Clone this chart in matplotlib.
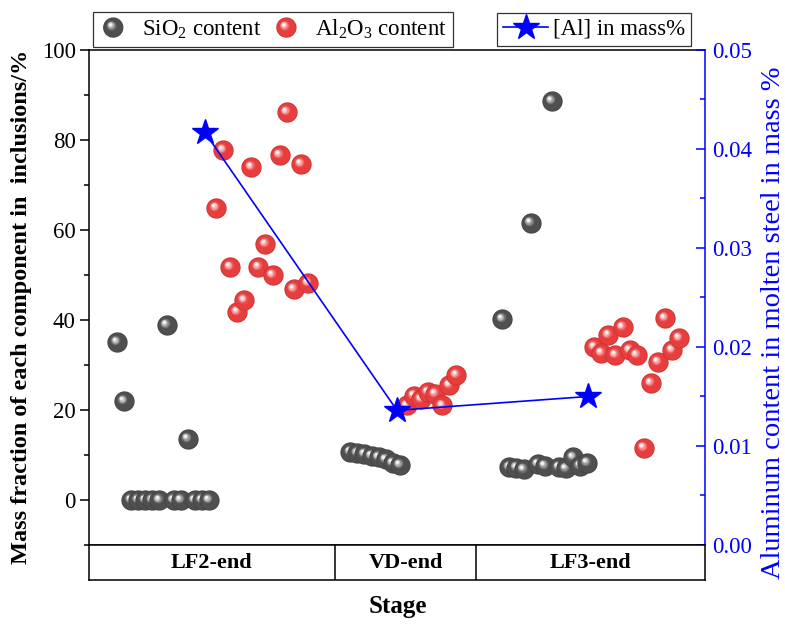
import matplotlib as mpl
mpl.use("Agg")
import matplotlib.pyplot as plt
import numpy as np
from matplotlib.ticker import MultipleLocator, FormatStrFormatter
from matplotlib.transforms import ScaledTranslation
from matplotlib.legend_handler import HandlerBase
from matplotlib.patches import Circle
from matplotlib.lines import Line2D
from matplotlib.colors import to_rgb

plt.rcParams['font.family'] = ['Liberation Serif', 'DejaVu Serif']
plt.rcParams['mathtext.fontset'] = 'custom'
plt.rcParams['mathtext.rm'] = 'Liberation Serif'
plt.rcParams['mathtext.it'] = 'Liberation Serif:italic'
plt.rcParams['mathtext.bf'] = 'Liberation Serif:bold'

# ---------------- data ----------------
stages = ["LF2-end", "VD-end", "LF3-end"]
stage_bounds = [30.83, 50.78]          # dividers between stage groups (x units)
stage_centers = [13.4, 40.8, 66.9]

sio2_x_lf2 = [0, 1, 2, 3, 4, 5, 6, 7, 8, 9, 10, 11, 12, 13]
sio2_lf2 = [35.1, 22.0, 0, 0, 0, 0, 0, 38.9, 0, 0, 13.6, 0, 0, 0]
al2o3_x_lf2 = [14, 15, 16, 17, 18, 19, 20, 21, 22, 23, 24, 25, 26, 27]
al2o3_lf2 = [64.9, 77.8, 51.8, 41.8, 44.4, 74.0, 51.8, 56.9, 50.0, 76.7, 86.2, 46.9, 74.7, 48.2]

sio2_x_vd = [33, 34, 35, 36, 37, 38, 39, 40]
sio2_vd = [10.7, 10.4, 10.2, 9.8, 9.5, 9.0, 8.2, 7.8]
al2o3_x_vd = [41, 42, 43, 44, 45, 46, 47, 48]
al2o3_vd = [21.0, 23.2, 22.4, 24.0, 23.6, 21.0, 25.5, 27.8]

sio2_x_lf3 = [54.5, 55.5, 56.5, 57.5, 58.5, 59.5, 60.5, 61.5, 62.5, 63.5, 64.5, 65.5, 66.5]
sio2_lf3 = [40.2, 7.3, 7.2, 6.8, 61.6, 8.0, 7.6, 88.7, 7.3, 7.0, 9.5, 7.6, 8.3]
al2o3_x_lf3 = [67.5, 68.5, 69.5, 70.5, 71.5, 72.5, 73.5, 74.5, 75.5, 76.5, 77.5, 78.5, 79.5]
al2o3_lf3 = [34.0, 32.7, 36.7, 32.2, 38.4, 33.3, 32.2, 11.6, 26.0, 30.7, 40.4, 33.3, 36.0]

al_x = [12.4, 39.6, 66.6]
al_mass = [0.0417, 0.0136, 0.0150]

GRAY = "#4f4f4f"
RED = "#e83d3d"
BLUE = "#0000ff"

# ---------------- ball drawing ----------------
def mix(c, w, t):
    c = np.array(to_rgb(c)); w = np.array(to_rgb(w))
    return tuple(c * (1 - t) + w * t)

def ball_layers(base):
    layers = [(0.0, 0.0, 1.0, mix(base, "black", 0.15)),
              (0.0, 0.0, 0.92, base)]
    N = 8
    for k in range(1, N + 1):
        t = k / N
        r = 0.55 - 0.42 * t
        off = 0.14 + 0.14 * t
        layers.append((-off, off, r, mix(base, "white", 0.95 * t ** 1.2)))
    return layers

R_PT = 7.3  # ball radius in points

def draw_balls(ax, fig, xs, ys, base, z0):
    lay = ball_layers(base)
    for i, (x, y) in enumerate(zip(xs, ys)):
        for j, (dx, dy, rf, col) in enumerate(lay):
            tr = ax.transData + ScaledTranslation(dx * R_PT / 72, dy * R_PT / 72,
                                                  fig.dpi_scale_trans)
            ax.plot([x], [y], marker='o', ls='none', ms=2 * rf * R_PT,
                    mfc=col, mec='none', transform=tr,
                    zorder=z0 + i * 0.01 + j * 0.0005, clip_on=False)

class BallHandler(HandlerBase):
    def __init__(self, base, **kw):
        super().__init__(**kw)
        self.base = base

    def create_artists(self, legend, orig_handle, xdescent, ydescent,
                       width, height, fontsize, trans):
        cx = width / 2 - xdescent
        cy = height / 2 - ydescent
        arts = []
        for dx, dy, rf, col in ball_layers(self.base):
            arts.append(Circle((cx + dx * R_PT, cy + dy * R_PT), rf * R_PT,
                               fc=col, ec='none', transform=trans))
        return arts

# ---------------- figure ----------------
fig = plt.figure(figsize=(7.85, 6.24), dpi=100)
ax = fig.add_axes([0.1134, 0.1266, 0.7847, 0.7933])
ax.set_xlim(-3.96, 83.17)
ax.set_ylim(-10, 100)
ax.yaxis.set_major_locator(MultipleLocator(20))
ax.yaxis.set_minor_locator(MultipleLocator(10))
ax.set_xticks([])
ax.tick_params(axis='y', which='major', direction='out', length=6.5, width=1.1,
               labelsize=16.5, pad=3)
ax.tick_params(axis='y', which='minor', direction='out', length=3.5, width=1.1)
for s in ['left', 'top', 'bottom']:
    ax.spines[s].set_linewidth(1.1)
ax.spines['right'].set_visible(False)

draw_balls(ax, fig, sio2_x_lf2, sio2_lf2, GRAY, 2)
draw_balls(ax, fig, al2o3_x_lf2, al2o3_lf2, RED, 3)
draw_balls(ax, fig, sio2_x_vd, sio2_vd, GRAY, 4)
draw_balls(ax, fig, al2o3_x_vd, al2o3_vd, RED, 5)
draw_balls(ax, fig, sio2_x_lf3, sio2_lf3, GRAY, 6)
draw_balls(ax, fig, al2o3_x_lf3, al2o3_lf3, RED, 7)

ax2 = ax.twinx()
ax2.set_ylim(0, 0.05)
ax2.yaxis.set_major_locator(MultipleLocator(0.01))
ax2.yaxis.set_minor_locator(MultipleLocator(0.005))
ax2.yaxis.set_major_formatter(FormatStrFormatter('%.2f'))
ax2.tick_params(axis='y', which='major', direction='in', length=6.5, width=1.1,
                labelsize=16.5, colors=BLUE, pad=5)
ax2.tick_params(axis='y', which='minor', direction='in', length=3.5, width=1.1,
                colors=BLUE)
for s in ['left', 'top', 'bottom']:
    ax2.spines[s].set_visible(False)
ax2.spines['right'].set_color(BLUE)
ax2.spines['right'].set_linewidth(1.1)
ax2.plot(al_x, al_mass, color=BLUE, lw=1.2, marker='*', ms=19, mec=BLUE, mfc=BLUE,
         zorder=10)

# stage box
axb = fig.add_axes([0.1134, 0.0705, 0.7847, 0.0561])
axb.set_xlim(-3.96, 83.17)
axb.set_ylim(0, 1)
axb.set_xticks([]); axb.set_yticks([])
for s in axb.spines.values():
    s.set_linewidth(1.1)
for b in stage_bounds:
    axb.axvline(b, color='black', lw=1.1)
for c, name in zip(stage_centers, stages):
    axb.text(c, 0.48, name, ha='center', va='center', fontsize=16, fontweight='bold')

fig.text(398 / 785, 1 - 607 / 624, "Stage", ha='center', va='center',
         fontsize=18, fontweight='bold')
fig.text(22 / 785, 1 - 307 / 624, "Mass fraction of each component in  inclusions/%",
         rotation=90, ha='center', va='center', fontsize=17.5, fontweight='bold')
fig.text(773 / 785, 1 - 323 / 624, "Aluminum content in molten steel in mass %",
         rotation=90, ha='center', va='center', fontsize=20.5, color=BLUE)

# legends
h_si = Line2D([], [], ls='none')
h_al = Line2D([], [], ls='none')
leg1 = fig.legend([h_si, h_al], [r"SiO$_\mathregular{2}$ content", r"Al$_\mathregular{2}$O$_\mathregular{3}$ content"],
                  handler_map={h_si: BallHandler(GRAY), h_al: BallHandler(RED)},
                  ncol=2, loc='upper left', bbox_to_anchor=(0.118, 0.981),
                  fontsize=16.5, frameon=True, fancybox=False, edgecolor='black',
                  borderpad=0.25, handlelength=1.3, handletextpad=0.6,
                  columnspacing=0.45, borderaxespad=0)
leg1.get_frame().set_linewidth(0.9)
h_star = Line2D([], [], color=BLUE, lw=1.2, marker='*', ms=19, mfc=BLUE, mec=BLUE)
leg2 = fig.legend([h_star], ["[Al] in mass%"], loc='upper left',
                  bbox_to_anchor=(0.633, 0.979), fontsize=16.5, frameon=True,
                  fancybox=False, edgecolor='black', borderpad=0.25,
                  handlelength=2.0, handletextpad=0.2, borderaxespad=0)
leg2.get_frame().set_linewidth(0.9)

fig.savefig("out.png", dpi=100)
